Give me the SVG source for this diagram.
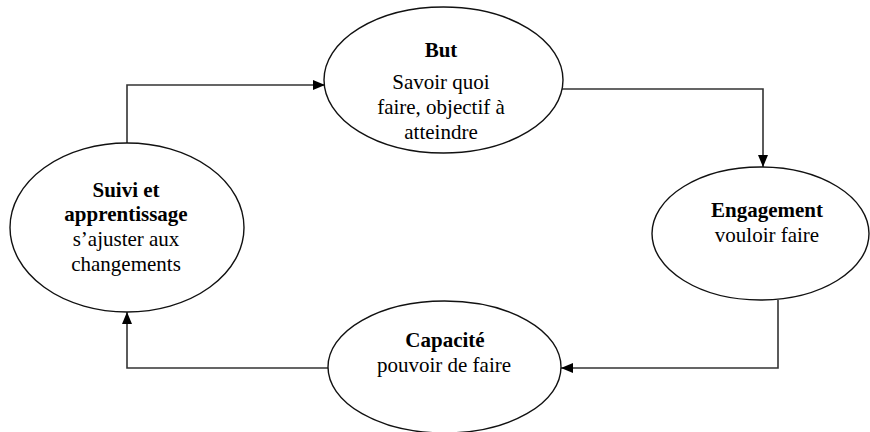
<svg xmlns="http://www.w3.org/2000/svg" width="870" height="432" viewBox="0 0 870 432">
  <style>
    .node ellipse { fill: #ffffff; stroke: #111111; stroke-width: 1.4; }
    text { font-family: 'Liberation Serif', 'DejaVu Serif', serif; font-size: 21px; fill: #000; text-anchor: middle; }
    .title { font-weight: bold; }
    .link { fill: none; stroke: #333333; stroke-width: 1.6; }
  </style>
  <defs>
    <marker id="arrow" viewBox="0 0 12 10" refX="12" refY="5" markerWidth="12" markerHeight="10" markerUnits="userSpaceOnUse" orient="auto">
      <path d="M0,0 L12,5 L0,10 Z" fill="#000"/>
    </marker>
  </defs>
  <rect width="870" height="432" fill="#ffffff"/>

  <g id="connectors">
    <path class="link" d="M127,143 V85 H325" marker-end="url(#arrow)"/>
    <path class="link" d="M562,89 H763 V167" marker-end="url(#arrow)"/>
    <path class="link" d="M778,300 V368 H561" marker-end="url(#arrow)"/>
    <path class="link" d="M328,368 H127 V312" marker-end="url(#arrow)"/>
  </g>

  <g id="but" class="node" font-family="Liberation Serif, serif">
    <ellipse cx="443.5" cy="80" rx="119.5" ry="73"/>
    <text class="title" x="441" y="57">But</text>
    <text x="441" y="89">Savoir quoi</text>
    <text x="441" y="114">faire, objectif à</text>
    <text x="441" y="139">atteindre</text>
  </g>

  <g id="engagement" class="node" font-family="Liberation Serif, serif">
    <ellipse cx="760.5" cy="233.5" rx="108.5" ry="66.5"/>
    <text class="title" x="767" y="217">Engagement</text>
    <text x="767" y="242">vouloir faire</text>
  </g>

  <g id="capacite" class="node" font-family="Liberation Serif, serif">
    <ellipse cx="444.5" cy="367" rx="116.5" ry="66"/>
    <text class="title" x="445" y="347">Capacité</text>
    <text x="444" y="372">pouvoir de faire</text>
  </g>

  <g id="suivi" class="node" font-family="Liberation Serif, serif">
    <ellipse cx="127" cy="227.5" rx="117" ry="84.5"/>
    <text class="title" x="126" y="197">Suivi et</text>
    <text class="title" x="126" y="221">apprentissage</text>
    <text x="126" y="246">s’ajuster aux</text>
    <text x="126" y="271">changements</text>
  </g>
</svg>
